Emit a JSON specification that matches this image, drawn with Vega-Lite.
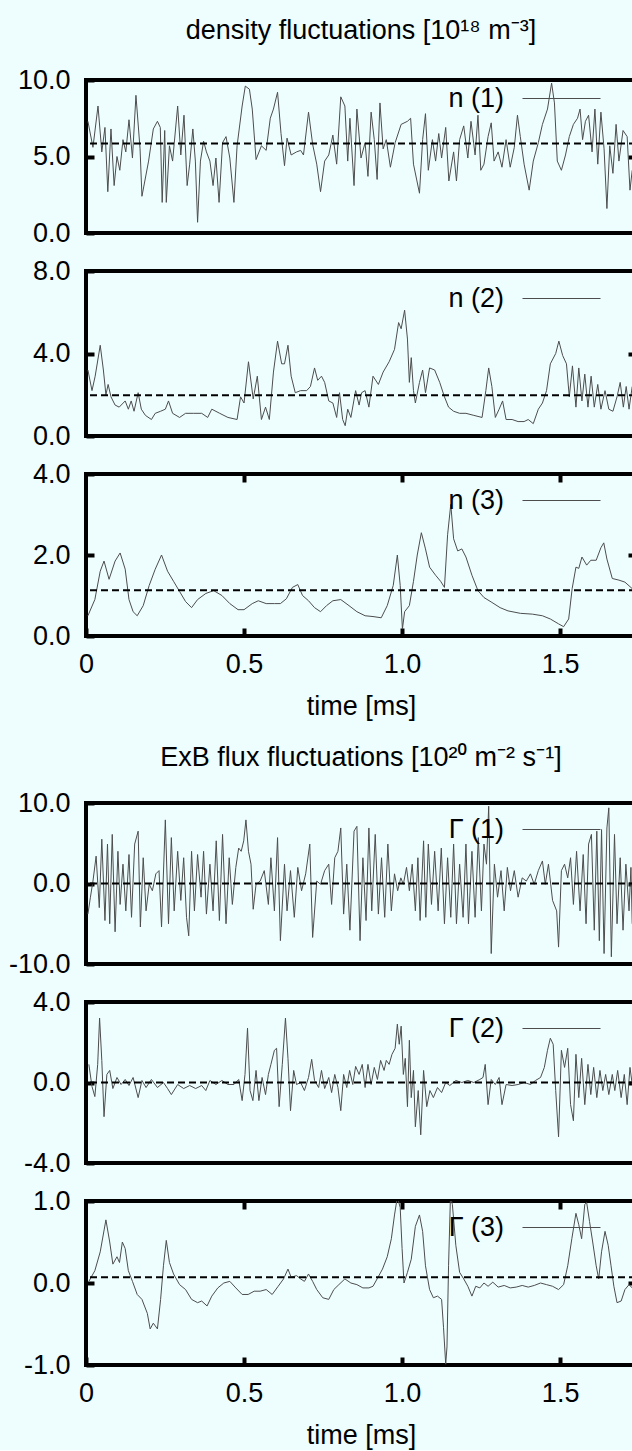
{
"$schema":"https://vega.github.io/schema/vega-lite/v6.json",
"background":"#eefefe",
"padding":{"left":6,"top":14,"right":0,"bottom":0},
"spacing":7,
"config":{
 "font":"Liberation Sans",
 "view":{"stroke":"black","strokeWidth":4},
 "axis":{"labelFont":"Liberation Sans","labelFontSize":27,"labelColor":"black","labelPadding":24,"tickSize":-8,"tickWidth":4,"tickColor":"black","domain":false,"grid":false,"labelFlush":false,"labelOverlap":false,"titleFont":"Liberation Sans","titleFontSize":27,"titleFontWeight":"normal","titleColor":"black"},
 "title":{"font":"Liberation Sans, Noto Sans","fontSize":27,"fontWeight":"normal","color":"black","anchor":"middle","frame":"group"},
 "legend":{"orient":"none","symbolType":"stroke","symbolSize":6084,"symbolStrokeWidth":1,"labelFont":"Liberation Sans","labelFontSize":27,"labelColor":"black","labelAlign":"right","labelOffset":-97,"padding":0}
},
"resolve":{"scale":{"color":"independent"},"legend":{"color":"independent"}},
"datasets":{
"n1":[{"t":0.006,"v":7.3},{"t":0.022,"v":5.6},{"t":0.038,"v":8.3},{"t":0.05,"v":5.3},{"t":0.06,"v":6.9},{"t":0.069,"v":2.7},{"t":0.079,"v":6.8},{"t":0.089,"v":3.1},{"t":0.098,"v":5.0},{"t":0.107,"v":4.1},{"t":0.117,"v":6.1},{"t":0.126,"v":5.3},{"t":0.136,"v":7.4},{"t":0.147,"v":4.9},{"t":0.158,"v":9.0},{"t":0.171,"v":5.5},{"t":0.177,"v":2.4},{"t":0.198,"v":4.7},{"t":0.213,"v":6.8},{"t":0.226,"v":7.3},{"t":0.235,"v":6.9},{"t":0.241,"v":2.0},{"t":0.249,"v":6.7},{"t":0.254,"v":2.0},{"t":0.264,"v":5.7},{"t":0.274,"v":4.7},{"t":0.29,"v":8.3},{"t":0.3,"v":5.1},{"t":0.31,"v":7.7},{"t":0.32,"v":3.1},{"t":0.328,"v":4.5},{"t":0.338,"v":6.8},{"t":0.346,"v":4.7},{"t":0.353,"v":0.7},{"t":0.362,"v":4.7},{"t":0.372,"v":6.0},{"t":0.381,"v":5.3},{"t":0.392,"v":4.7},{"t":0.402,"v":3.1},{"t":0.411,"v":4.9},{"t":0.421,"v":2.0},{"t":0.432,"v":5.9},{"t":0.443,"v":6.3},{"t":0.455,"v":4.9},{"t":0.468,"v":2.0},{"t":0.478,"v":5.7},{"t":0.494,"v":8.3},{"t":0.504,"v":9.6},{"t":0.517,"v":9.4},{"t":0.526,"v":8.1},{"t":0.538,"v":4.8},{"t":0.555,"v":5.7},{"t":0.57,"v":5.4},{"t":0.583,"v":7.5},{"t":0.593,"v":8.1},{"t":0.606,"v":9.2},{"t":0.617,"v":6.5},{"t":0.628,"v":4.4},{"t":0.636,"v":6.2},{"t":0.649,"v":5.1},{"t":0.666,"v":5.3},{"t":0.679,"v":5.4},{"t":0.688,"v":5.1},{"t":0.704,"v":7.9},{"t":0.717,"v":5.8},{"t":0.73,"v":4.5},{"t":0.742,"v":2.7},{"t":0.755,"v":4.7},{"t":0.768,"v":5.1},{"t":0.781,"v":6.4},{"t":0.793,"v":4.5},{"t":0.806,"v":8.9},{"t":0.819,"v":8.3},{"t":0.828,"v":4.7},{"t":0.835,"v":7.5},{"t":0.848,"v":3.1},{"t":0.857,"v":8.1},{"t":0.87,"v":4.9},{"t":0.883,"v":5.9},{"t":0.892,"v":3.7},{"t":0.902,"v":7.9},{"t":0.912,"v":6.1},{"t":0.921,"v":3.5},{"t":0.93,"v":8.5},{"t":0.94,"v":5.5},{"t":0.95,"v":6.1},{"t":0.963,"v":4.3},{"t":0.978,"v":5.9},{"t":0.997,"v":7.1},{"t":1.017,"v":7.3},{"t":1.027,"v":7.5},{"t":1.036,"v":4.5},{"t":1.055,"v":2.6},{"t":1.065,"v":6.1},{"t":1.074,"v":7.8},{"t":1.083,"v":4.1},{"t":1.096,"v":6.1},{"t":1.106,"v":4.7},{"t":1.116,"v":6.5},{"t":1.125,"v":4.9},{"t":1.138,"v":6.9},{"t":1.148,"v":3.4},{"t":1.163,"v":5.3},{"t":1.172,"v":3.4},{"t":1.182,"v":6.1},{"t":1.195,"v":7.0},{"t":1.208,"v":4.9},{"t":1.218,"v":7.3},{"t":1.231,"v":5.1},{"t":1.24,"v":7.7},{"t":1.249,"v":4.1},{"t":1.259,"v":4.5},{"t":1.272,"v":6.3},{"t":1.282,"v":7.2},{"t":1.291,"v":4.7},{"t":1.304,"v":5.3},{"t":1.316,"v":4.3},{"t":1.329,"v":6.1},{"t":1.342,"v":4.3},{"t":1.355,"v":5.6},{"t":1.365,"v":7.7},{"t":1.374,"v":6.3},{"t":1.386,"v":4.5},{"t":1.402,"v":2.8},{"t":1.415,"v":4.7},{"t":1.431,"v":5.9},{"t":1.444,"v":7.1},{"t":1.46,"v":8.1},{"t":1.473,"v":9.8},{"t":1.482,"v":8.5},{"t":1.491,"v":4.7},{"t":1.504,"v":4.1},{"t":1.517,"v":5.1},{"t":1.529,"v":6.3},{"t":1.542,"v":7.1},{"t":1.555,"v":7.5},{"t":1.563,"v":8.1},{"t":1.571,"v":6.1},{"t":1.58,"v":7.3},{"t":1.59,"v":7.7},{"t":1.601,"v":5.3},{"t":1.61,"v":8.1},{"t":1.619,"v":4.5},{"t":1.629,"v":7.9},{"t":1.639,"v":5.5},{"t":1.648,"v":1.6},{"t":1.657,"v":5.7},{"t":1.667,"v":3.9},{"t":1.677,"v":7.1},{"t":1.686,"v":4.7},{"t":1.699,"v":6.7},{"t":1.712,"v":6.3},{"t":1.721,"v":2.8},{"t":1.728,"v":4.1}],
"n2":[{"t":0.006,"v":3.2},{"t":0.019,"v":2.2},{"t":0.029,"v":2.9},{"t":0.045,"v":4.4},{"t":0.055,"v":3.2},{"t":0.063,"v":2.0},{"t":0.07,"v":2.5},{"t":0.079,"v":1.9},{"t":0.092,"v":1.5},{"t":0.105,"v":1.4},{"t":0.124,"v":1.7},{"t":0.134,"v":1.3},{"t":0.143,"v":1.7},{"t":0.152,"v":1.2},{"t":0.165,"v":2.1},{"t":0.175,"v":1.3},{"t":0.188,"v":1.0},{"t":0.207,"v":0.8},{"t":0.219,"v":1.1},{"t":0.236,"v":1.2},{"t":0.251,"v":1.3},{"t":0.261,"v":1.7},{"t":0.274,"v":1.1},{"t":0.296,"v":0.9},{"t":0.315,"v":1.1},{"t":0.341,"v":1.1},{"t":0.366,"v":1.1},{"t":0.385,"v":0.9},{"t":0.398,"v":1.3},{"t":0.423,"v":1.1},{"t":0.449,"v":0.9},{"t":0.478,"v":0.8},{"t":0.489,"v":1.9},{"t":0.5,"v":1.6},{"t":0.514,"v":3.6},{"t":0.529,"v":1.8},{"t":0.542,"v":2.9},{"t":0.555,"v":0.8},{"t":0.568,"v":1.4},{"t":0.58,"v":0.8},{"t":0.593,"v":3.1},{"t":0.606,"v":4.6},{"t":0.619,"v":3.5},{"t":0.628,"v":3.5},{"t":0.639,"v":4.4},{"t":0.649,"v":2.9},{"t":0.662,"v":2.1},{"t":0.679,"v":2.2},{"t":0.698,"v":2.2},{"t":0.71,"v":2.4},{"t":0.723,"v":3.3},{"t":0.733,"v":2.7},{"t":0.745,"v":2.9},{"t":0.755,"v":2.6},{"t":0.768,"v":1.7},{"t":0.781,"v":1.6},{"t":0.793,"v":0.9},{"t":0.802,"v":2.1},{"t":0.812,"v":0.8},{"t":0.82,"v":0.5},{"t":0.828,"v":1.3},{"t":0.838,"v":0.9},{"t":0.853,"v":2.2},{"t":0.864,"v":1.5},{"t":0.872,"v":2.1},{"t":0.883,"v":2.2},{"t":0.895,"v":1.4},{"t":0.908,"v":2.9},{"t":0.925,"v":2.5},{"t":0.94,"v":3.1},{"t":0.959,"v":3.6},{"t":0.976,"v":4.2},{"t":0.989,"v":5.5},{"t":0.997,"v":5.2},{"t":1.008,"v":6.1},{"t":1.017,"v":4.7},{"t":1.023,"v":2.6},{"t":1.029,"v":3.8},{"t":1.036,"v":2.2},{"t":1.042,"v":1.6},{"t":1.055,"v":2.6},{"t":1.065,"v":3.2},{"t":1.074,"v":2.1},{"t":1.087,"v":3.3},{"t":1.103,"v":3.2},{"t":1.119,"v":2.6},{"t":1.134,"v":1.9},{"t":1.147,"v":1.4},{"t":1.163,"v":1.2},{"t":1.182,"v":1.1},{"t":1.202,"v":1.1},{"t":1.227,"v":1.0},{"t":1.253,"v":0.9},{"t":1.265,"v":2.2},{"t":1.274,"v":3.3},{"t":1.284,"v":2.4},{"t":1.295,"v":0.9},{"t":1.307,"v":1.3},{"t":1.318,"v":1.7},{"t":1.329,"v":0.8},{"t":1.348,"v":0.8},{"t":1.367,"v":0.7},{"t":1.386,"v":0.7},{"t":1.399,"v":0.8},{"t":1.415,"v":0.6},{"t":1.431,"v":1.3},{"t":1.444,"v":1.6},{"t":1.457,"v":2.2},{"t":1.469,"v":3.5},{"t":1.486,"v":4.0},{"t":1.496,"v":4.6},{"t":1.508,"v":3.9},{"t":1.52,"v":3.5},{"t":1.529,"v":1.9},{"t":1.539,"v":3.4},{"t":1.55,"v":1.4},{"t":1.559,"v":3.3},{"t":1.569,"v":1.7},{"t":1.578,"v":3.0},{"t":1.588,"v":1.4},{"t":1.598,"v":2.9},{"t":1.608,"v":1.4},{"t":1.619,"v":2.5},{"t":1.629,"v":1.3},{"t":1.642,"v":2.2},{"t":1.654,"v":1.3},{"t":1.667,"v":1.2},{"t":1.68,"v":1.9},{"t":1.69,"v":2.6},{"t":1.7,"v":1.4},{"t":1.709,"v":2.4},{"t":1.718,"v":1.3},{"t":1.728,"v":2.4}],
"n3":[{"t":0.006,"v":0.5},{"t":0.028,"v":0.9},{"t":0.045,"v":1.6},{"t":0.057,"v":1.85},{"t":0.073,"v":1.4},{"t":0.092,"v":1.85},{"t":0.108,"v":2.05},{"t":0.124,"v":1.65},{"t":0.136,"v":0.9},{"t":0.149,"v":0.6},{"t":0.162,"v":0.5},{"t":0.181,"v":0.75},{"t":0.2,"v":1.25},{"t":0.219,"v":1.65},{"t":0.239,"v":2.0},{"t":0.258,"v":1.6},{"t":0.277,"v":1.35},{"t":0.296,"v":1.1},{"t":0.315,"v":0.85},{"t":0.334,"v":0.7},{"t":0.353,"v":0.9},{"t":0.379,"v":1.05},{"t":0.404,"v":1.12},{"t":0.43,"v":1.0},{"t":0.455,"v":0.8},{"t":0.481,"v":0.65},{"t":0.5,"v":0.65},{"t":0.526,"v":0.8},{"t":0.545,"v":0.87},{"t":0.57,"v":0.8},{"t":0.596,"v":0.8},{"t":0.615,"v":0.8},{"t":0.634,"v":0.92},{"t":0.653,"v":1.2},{"t":0.67,"v":1.27},{"t":0.685,"v":1.0},{"t":0.704,"v":0.87},{"t":0.723,"v":0.7},{"t":0.742,"v":0.6},{"t":0.761,"v":0.75},{"t":0.781,"v":0.87},{"t":0.806,"v":0.9},{"t":0.832,"v":0.75},{"t":0.857,"v":0.6},{"t":0.883,"v":0.5},{"t":0.908,"v":0.48},{"t":0.934,"v":0.45},{"t":0.953,"v":0.75},{"t":0.972,"v":1.25},{"t":0.985,"v":2.0},{"t":0.994,"v":1.25},{"t":1.001,"v":0.17},{"t":1.008,"v":0.6},{"t":1.023,"v":0.75},{"t":1.036,"v":1.35},{"t":1.048,"v":2.0},{"t":1.061,"v":2.55},{"t":1.074,"v":2.15},{"t":1.087,"v":1.7},{"t":1.106,"v":1.5},{"t":1.122,"v":1.35},{"t":1.134,"v":1.2},{"t":1.144,"v":2.5},{"t":1.154,"v":3.25},{"t":1.163,"v":2.4},{"t":1.176,"v":2.1},{"t":1.189,"v":2.15},{"t":1.202,"v":1.95},{"t":1.221,"v":1.5},{"t":1.24,"v":1.12},{"t":1.259,"v":0.95},{"t":1.284,"v":0.83},{"t":1.31,"v":0.7},{"t":1.335,"v":0.62},{"t":1.374,"v":0.56},{"t":1.412,"v":0.54},{"t":1.444,"v":0.5},{"t":1.469,"v":0.42},{"t":1.495,"v":0.3},{"t":1.511,"v":0.23},{"t":1.527,"v":0.42},{"t":1.538,"v":1.17},{"t":1.55,"v":1.7},{"t":1.559,"v":1.67},{"t":1.569,"v":1.95},{"t":1.584,"v":1.75},{"t":1.597,"v":1.87},{"t":1.614,"v":1.87},{"t":1.629,"v":2.18},{"t":1.638,"v":2.3},{"t":1.648,"v":1.9},{"t":1.665,"v":1.42},{"t":1.686,"v":1.38},{"t":1.705,"v":1.33},{"t":1.728,"v":1.17}],
"g1":[{"t":0.006,"v":-3.8},{"t":0.014,"v":-1.7},{"t":0.022,"v":0.3},{"t":0.032,"v":3.4},{"t":0.042,"v":-3.0},{"t":0.05,"v":5.5},{"t":0.06,"v":-4.6},{"t":0.068,"v":4.9},{"t":0.075,"v":-5.0},{"t":0.083,"v":6.1},{"t":0.092,"v":-6.0},{"t":0.101,"v":4.0},{"t":0.108,"v":-2.6},{"t":0.117,"v":2.4},{"t":0.126,"v":-3.4},{"t":0.136,"v":3.6},{"t":0.144,"v":-4.2},{"t":0.154,"v":4.9},{"t":0.165,"v":6.5},{"t":0.172,"v":-5.4},{"t":0.181,"v":3.2},{"t":0.19,"v":-3.4},{"t":0.2,"v":-0.1},{"t":0.21,"v":-0.9},{"t":0.221,"v":1.2},{"t":0.231,"v":1.6},{"t":0.239,"v":-5.4},{"t":0.251,"v":7.9},{"t":0.261,"v":-5.0},{"t":0.27,"v":5.7},{"t":0.279,"v":-3.4},{"t":0.29,"v":4.0},{"t":0.3,"v":-2.1},{"t":0.309,"v":3.2},{"t":0.318,"v":-4.2},{"t":0.325,"v":-6.5},{"t":0.334,"v":4.0},{"t":0.343,"v":-3.4},{"t":0.353,"v":3.6},{"t":0.364,"v":-1.7},{"t":0.372,"v":4.0},{"t":0.381,"v":-3.8},{"t":0.392,"v":2.4},{"t":0.402,"v":-3.4},{"t":0.412,"v":5.3},{"t":0.422,"v":-4.6},{"t":0.432,"v":6.1},{"t":0.443,"v":-5.0},{"t":0.453,"v":3.2},{"t":0.463,"v":-2.6},{"t":0.474,"v":2.0},{"t":0.483,"v":4.4},{"t":0.491,"v":4.0},{"t":0.499,"v":5.3},{"t":0.506,"v":7.9},{"t":0.514,"v":4.0},{"t":0.522,"v":2.4},{"t":0.529,"v":-3.2},{"t":0.538,"v":-0.1},{"t":0.551,"v":0.3},{"t":0.564,"v":1.6},{"t":0.577,"v":-2.6},{"t":0.585,"v":3.2},{"t":0.596,"v":-3.4},{"t":0.606,"v":5.7},{"t":0.615,"v":-7.1},{"t":0.628,"v":2.4},{"t":0.636,"v":-3.4},{"t":0.647,"v":1.6},{"t":0.659,"v":-4.2},{"t":0.67,"v":2.0},{"t":0.682,"v":-0.9},{"t":0.695,"v":1.2},{"t":0.708,"v":4.9},{"t":0.717,"v":-6.7},{"t":0.73,"v":0.3},{"t":0.742,"v":-0.1},{"t":0.755,"v":1.6},{"t":0.768,"v":2.4},{"t":0.777,"v":-2.6},{"t":0.787,"v":3.2},{"t":0.797,"v":4.0},{"t":0.806,"v":6.9},{"t":0.815,"v":-3.8},{"t":0.825,"v":2.4},{"t":0.835,"v":-5.8},{"t":0.848,"v":6.5},{"t":0.857,"v":7.1},{"t":0.867,"v":-7.1},{"t":0.876,"v":3.2},{"t":0.886,"v":-4.6},{"t":0.895,"v":6.9},{"t":0.904,"v":-3.4},{"t":0.915,"v":6.1},{"t":0.925,"v":-3.8},{"t":0.935,"v":3.2},{"t":0.945,"v":-4.2},{"t":0.955,"v":4.9},{"t":0.966,"v":-3.4},{"t":0.976,"v":1.2},{"t":0.986,"v":-0.9},{"t":0.996,"v":0.7},{"t":1.004,"v":-0.1},{"t":1.014,"v":2.0},{"t":1.023,"v":-0.9},{"t":1.032,"v":2.4},{"t":1.042,"v":-3.4},{"t":1.05,"v":3.2},{"t":1.057,"v":-4.6},{"t":1.068,"v":5.3},{"t":1.075,"v":-4.2},{"t":1.083,"v":4.9},{"t":1.093,"v":-2.6},{"t":1.103,"v":4.0},{"t":1.114,"v":-3.4},{"t":1.124,"v":4.4},{"t":1.134,"v":-5.0},{"t":1.144,"v":3.2},{"t":1.154,"v":-4.2},{"t":1.163,"v":4.9},{"t":1.172,"v":-5.0},{"t":1.182,"v":2.4},{"t":1.193,"v":-4.2},{"t":1.202,"v":4.9},{"t":1.21,"v":-5.0},{"t":1.221,"v":4.0},{"t":1.231,"v":-4.2},{"t":1.241,"v":5.7},{"t":1.251,"v":-3.4},{"t":1.259,"v":4.9},{"t":1.267,"v":2.4},{"t":1.274,"v":9.6},{"t":1.282,"v":-8.7},{"t":1.292,"v":2.4},{"t":1.302,"v":-1.7},{"t":1.313,"v":1.6},{"t":1.323,"v":-3.4},{"t":1.333,"v":2.0},{"t":1.343,"v":-0.9},{"t":1.355,"v":1.6},{"t":1.367,"v":-1.7},{"t":1.38,"v":0.7},{"t":1.393,"v":0.3},{"t":1.406,"v":1.2},{"t":1.418,"v":-0.1},{"t":1.431,"v":1.6},{"t":1.444,"v":2.8},{"t":1.453,"v":-0.1},{"t":1.463,"v":2.4},{"t":1.476,"v":-2.1},{"t":1.489,"v":-3.4},{"t":1.495,"v":-7.9},{"t":1.504,"v":1.6},{"t":1.514,"v":2.4},{"t":1.524,"v":0.7},{"t":1.533,"v":3.2},{"t":1.542,"v":-2.6},{"t":1.552,"v":4.0},{"t":1.563,"v":-3.4},{"t":1.573,"v":3.6},{"t":1.582,"v":-5.0},{"t":1.59,"v":4.9},{"t":1.599,"v":6.1},{"t":1.608,"v":-5.8},{"t":1.616,"v":6.5},{"t":1.624,"v":-7.1},{"t":1.631,"v":6.7},{"t":1.639,"v":-8.7},{"t":1.648,"v":6.9},{"t":1.654,"v":9.4},{"t":1.662,"v":-9.1},{"t":1.672,"v":6.1},{"t":1.68,"v":-5.0},{"t":1.69,"v":3.2},{"t":1.699,"v":-5.8},{"t":1.708,"v":2.4},{"t":1.718,"v":-3.4},{"t":1.724,"v":2.0},{"t":1.728,"v":-5.0}],
"g2":[{"t":0.009,"v":0.9},{"t":0.019,"v":-0.2},{"t":0.028,"v":-0.7},{"t":0.037,"v":0.9},{"t":0.043,"v":3.2},{"t":0.05,"v":1.1},{"t":0.057,"v":-1.7},{"t":0.066,"v":0.4},{"t":0.075,"v":0.6},{"t":0.085,"v":-0.3},{"t":0.098,"v":0.25},{"t":0.111,"v":-0.1},{"t":0.124,"v":0.15},{"t":0.136,"v":-0.15},{"t":0.149,"v":0.25},{"t":0.165,"v":-0.75},{"t":0.177,"v":0.1},{"t":0.19,"v":-0.25},{"t":0.207,"v":0.15},{"t":0.226,"v":-0.25},{"t":0.245,"v":0},{"t":0.258,"v":-0.3},{"t":0.27,"v":-0.6},{"t":0.29,"v":-0.1},{"t":0.309,"v":-0.3},{"t":0.328,"v":-0.15},{"t":0.347,"v":-0.3},{"t":0.366,"v":-0.15},{"t":0.379,"v":-0.4},{"t":0.392,"v":0.1},{"t":0.411,"v":-0.1},{"t":0.43,"v":0.1},{"t":0.449,"v":-0.1},{"t":0.468,"v":-0.1},{"t":0.483,"v":0.15},{"t":0.494,"v":-0.9},{"t":0.503,"v":0.4},{"t":0.511,"v":2.7},{"t":0.519,"v":-0.4},{"t":0.528,"v":-0.9},{"t":0.538,"v":0.6},{"t":0.547,"v":-0.9},{"t":0.557,"v":0.25},{"t":0.568,"v":-0.6},{"t":0.577,"v":0.4},{"t":0.585,"v":0.9},{"t":0.596,"v":1.6},{"t":0.603,"v":1.7},{"t":0.611,"v":-1.2},{"t":0.621,"v":0.9},{"t":0.631,"v":3.2},{"t":0.639,"v":1.2},{"t":0.647,"v":-1.4},{"t":0.657,"v":0.6},{"t":0.666,"v":-0.1},{"t":0.679,"v":0},{"t":0.691,"v":-0.4},{"t":0.704,"v":0.25},{"t":0.714,"v":1.15},{"t":0.723,"v":0.1},{"t":0.736,"v":-0.25},{"t":0.745,"v":0.6},{"t":0.755,"v":-0.3},{"t":0.768,"v":0.25},{"t":0.777,"v":-0.5},{"t":0.787,"v":0.4},{"t":0.797,"v":-0.25},{"t":0.806,"v":-1.4},{"t":0.815,"v":0.4},{"t":0.825,"v":-0.25},{"t":0.834,"v":0.6},{"t":0.844,"v":-0.1},{"t":0.853,"v":0.8},{"t":0.864,"v":0.4},{"t":0.874,"v":0.9},{"t":0.883,"v":-0.25},{"t":0.892,"v":0.9},{"t":0.902,"v":-0.1},{"t":0.912,"v":0.75},{"t":0.922,"v":0.15},{"t":0.932,"v":1.1},{"t":0.943,"v":0.6},{"t":0.95,"v":1.1},{"t":0.959,"v":0.9},{"t":0.968,"v":1.4},{"t":0.978,"v":1.7},{"t":0.985,"v":2.9},{"t":0.991,"v":1.9},{"t":0.997,"v":2.8},{"t":1.004,"v":0.4},{"t":1.01,"v":1.2},{"t":1.017,"v":-1.2},{"t":1.023,"v":2.1},{"t":1.029,"v":-0.75},{"t":1.036,"v":0.6},{"t":1.042,"v":-2.2},{"t":1.051,"v":-0.4},{"t":1.059,"v":-2.6},{"t":1.068,"v":0.6},{"t":1.078,"v":-1.2},{"t":1.088,"v":-0.4},{"t":1.099,"v":-0.75},{"t":1.112,"v":-0.25},{"t":1.125,"v":-0.5},{"t":1.138,"v":0},{"t":1.151,"v":-0.15},{"t":1.17,"v":0.1},{"t":1.189,"v":0},{"t":1.208,"v":0.1},{"t":1.227,"v":0},{"t":1.246,"v":0.15},{"t":1.256,"v":0.25},{"t":1.263,"v":0.9},{"t":1.272,"v":-1.1},{"t":1.282,"v":0.15},{"t":1.295,"v":-0.1},{"t":1.307,"v":0.25},{"t":1.316,"v":-1.1},{"t":1.329,"v":-0.1},{"t":1.348,"v":-0.15},{"t":1.367,"v":-0.1},{"t":1.386,"v":0},{"t":1.406,"v":-0.1},{"t":1.422,"v":0.1},{"t":1.438,"v":0.25},{"t":1.45,"v":0.75},{"t":1.46,"v":1.6},{"t":1.469,"v":2.2},{"t":1.478,"v":1.9},{"t":1.486,"v":-0.4},{"t":1.495,"v":-2.7},{"t":1.504,"v":1.6},{"t":1.514,"v":0.75},{"t":1.524,"v":1.7},{"t":1.533,"v":-1.1},{"t":1.542,"v":-1.9},{"t":1.55,"v":1.4},{"t":1.559,"v":-0.75},{"t":1.568,"v":1.2},{"t":1.578,"v":-1.1},{"t":1.588,"v":0.9},{"t":1.597,"v":-0.6},{"t":1.606,"v":0.75},{"t":1.616,"v":-0.75},{"t":1.626,"v":0.6},{"t":1.635,"v":-0.4},{"t":1.644,"v":0.4},{"t":1.654,"v":-0.6},{"t":1.665,"v":0.4},{"t":1.673,"v":-0.4},{"t":1.682,"v":0.6},{"t":1.693,"v":-0.75},{"t":1.703,"v":0.4},{"t":1.712,"v":-1.1},{"t":1.721,"v":0.75},{"t":1.728,"v":-0.1}],
"g3":[{"t":0.009,"v":0.02},{"t":0.028,"v":0.15},{"t":0.045,"v":0.38},{"t":0.063,"v":0.77},{"t":0.075,"v":0.5},{"t":0.085,"v":0.23},{"t":0.098,"v":0.32},{"t":0.106,"v":0.25},{"t":0.115,"v":0.5},{"t":0.124,"v":0.42},{"t":0.134,"v":0.15},{"t":0.147,"v":0.02},{"t":0.162,"v":-0.14},{"t":0.177,"v":-0.2},{"t":0.194,"v":-0.37},{"t":0.203,"v":-0.56},{"t":0.213,"v":-0.49},{"t":0.226,"v":-0.56},{"t":0.236,"v":-0.2},{"t":0.245,"v":0.21},{"t":0.254,"v":0.52},{"t":0.264,"v":0.25},{"t":0.277,"v":0.11},{"t":0.296,"v":-0.02},{"t":0.315,"v":-0.08},{"t":0.334,"v":-0.2},{"t":0.353,"v":-0.24},{"t":0.366,"v":-0.22},{"t":0.383,"v":-0.28},{"t":0.398,"v":-0.16},{"t":0.417,"v":-0.06},{"t":0.436,"v":0},{"t":0.455,"v":0.02},{"t":0.474,"v":-0.06},{"t":0.494,"v":-0.14},{"t":0.513,"v":-0.14},{"t":0.532,"v":-0.1},{"t":0.551,"v":-0.1},{"t":0.57,"v":-0.08},{"t":0.589,"v":-0.14},{"t":0.608,"v":-0.04},{"t":0.625,"v":0.05},{"t":0.639,"v":0.17},{"t":0.649,"v":0.07},{"t":0.666,"v":0.09},{"t":0.679,"v":0.05},{"t":0.691,"v":0.02},{"t":0.704,"v":0.11},{"t":0.717,"v":0.02},{"t":0.73,"v":-0.08},{"t":0.749,"v":-0.18},{"t":0.768,"v":-0.2},{"t":0.784,"v":-0.08},{"t":0.8,"v":-0.02},{"t":0.819,"v":0.05},{"t":0.838,"v":0},{"t":0.857,"v":-0.02},{"t":0.876,"v":-0.06},{"t":0.895,"v":-0.06},{"t":0.908,"v":-0.04},{"t":0.921,"v":0.05},{"t":0.938,"v":0.17},{"t":0.953,"v":0.32},{"t":0.966,"v":0.54},{"t":0.976,"v":0.83},{"t":0.985,"v":1.05},{"t":0.994,"v":0.92},{"t":1.0,"v":0.42},{"t":1.006,"v":0},{"t":1.017,"v":0.13},{"t":1.029,"v":0.29},{"t":1.042,"v":0.69},{"t":1.055,"v":0.83},{"t":1.065,"v":0.63},{"t":1.074,"v":0.21},{"t":1.087,"v":-0.08},{"t":1.099,"v":-0.18},{"t":1.112,"v":-0.16},{"t":1.125,"v":-0.2},{"t":1.131,"v":-0.54},{"t":1.138,"v":-0.99},{"t":1.142,"v":-0.78},{"t":1.147,"v":0.21},{"t":1.153,"v":1.05},{"t":1.159,"v":0.96},{"t":1.17,"v":0.46},{"t":1.182,"v":0.13},{"t":1.195,"v":0.05},{"t":1.208,"v":-0.04},{"t":1.221,"v":-0.16},{"t":1.233,"v":-0.04},{"t":1.246,"v":-0.06},{"t":1.259,"v":0},{"t":1.272,"v":-0.04},{"t":1.287,"v":0.01},{"t":1.304,"v":-0.05},{"t":1.323,"v":-0.03},{"t":1.342,"v":-0.06},{"t":1.361,"v":-0.05},{"t":1.38,"v":-0.03},{"t":1.399,"v":-0.05},{"t":1.418,"v":-0.03},{"t":1.438,"v":0},{"t":1.457,"v":-0.02},{"t":1.476,"v":-0.04},{"t":1.495,"v":-0.08},{"t":1.511,"v":-0.02},{"t":1.524,"v":0.21},{"t":1.537,"v":0.54},{"t":1.55,"v":0.85},{"t":1.559,"v":0.71},{"t":1.568,"v":0.54},{"t":1.578,"v":0.96},{"t":1.584,"v":0.98},{"t":1.593,"v":0.75},{"t":1.603,"v":0.5},{"t":1.614,"v":0.21},{"t":1.622,"v":0.05},{"t":1.631,"v":0.38},{"t":1.642,"v":0.63},{"t":1.652,"v":0.46},{"t":1.661,"v":0.21},{"t":1.67,"v":-0.04},{"t":1.68,"v":-0.24},{"t":1.693,"v":-0.22},{"t":1.705,"v":-0.08},{"t":1.718,"v":-0.02},{"t":1.728,"v":-0.06}]
},
"vconcat":[
{"width":550,"height":153,
 "title":{"text":"density fluctuations [10¹⁸ m⁻³]","offset":14.5},
 "layer":[
  {"data":{"name":"n1"},"mark":{"type":"line","clip":true,"strokeWidth":1},
   "encoding":{"x":{"field":"t","type":"quantitative","scale":{"domain":[0,1.74],"nice":false,"zero":false},"axis":null},
    "y":{"field":"v","type":"quantitative","scale":{"domain":[0,10],"nice":false,"zero":false},"axis":{"values":[0,5,10],"labelExpr":"replace(format(datum.value,'.1f'),'\u2212','-')","title":null}},
    "color":{"datum":"n (1)","type":"nominal","scale":{"range":["#4d4d4d"]},"legend":{"title":null,"legendX":436,"legendY":-21}}}},
  {"data":{"values":[{"m":5.85}]},"mark":{"type":"rule","color":"black","strokeWidth":2,"strokeDash":[7,4]},
   "encoding":{"y":{"field":"m","type":"quantitative","scale":{"domain":[0,10],"nice":false,"zero":false},"axis":{"orient":"right","values":[5],"labels":false,"title":null}}}}
 ],
 "resolve":{"axis":{"y":"independent"}}},
{"width":550,"height":165,
 "layer":[
  {"data":{"name":"n2"},"mark":{"type":"line","clip":true,"strokeWidth":1},
   "encoding":{"x":{"field":"t","type":"quantitative","scale":{"domain":[0,1.74],"nice":false,"zero":false},"axis":null},
    "y":{"field":"v","type":"quantitative","scale":{"domain":[0,8],"nice":false,"zero":false},"axis":{"values":[0,4,8],"labelExpr":"replace(format(datum.value,'.1f'),'\u2212','-')","title":null}},
    "color":{"datum":"n (2)","type":"nominal","scale":{"range":["#4d4d4d"]},"legend":{"title":null,"legendX":436,"legendY":-12}}}},
  {"data":{"values":[{"m":1.97}]},"mark":{"type":"rule","color":"black","strokeWidth":2,"strokeDash":[7,4]},
   "encoding":{"y":{"field":"m","type":"quantitative","scale":{"domain":[0,8],"nice":false,"zero":false},"axis":{"orient":"right","values":[4],"labels":false,"title":null}}}}
 ],
 "resolve":{"axis":{"y":"independent"}}},
{"width":550,"height":162,
 "layer":[
  {"data":{"name":"n3"},"mark":{"type":"line","clip":true,"strokeWidth":1},
   "encoding":{"x":{"field":"t","type":"quantitative","scale":{"domain":[0,1.74],"nice":false,"zero":false},"axis":{"values":[0,0.5,1,1.5],"labelExpr":"datum.value === 0 ? '0' : format(datum.value, '.1f')","title":"time [ms]","labelPadding":23,"titlePadding":16}},
    "y":{"field":"v","type":"quantitative","scale":{"domain":[0,4],"nice":false,"zero":false},"axis":{"values":[0,2,4],"labelExpr":"replace(format(datum.value,'.1f'),'\u2212','-')","title":null}},
    "color":{"datum":"n (3)","type":"nominal","scale":{"range":["#4d4d4d"]},"legend":{"title":null,"legendX":436,"legendY":-13}}}},
  {"data":{"values":[{"m":1.13}]},"mark":{"type":"rule","color":"black","strokeWidth":2,"strokeDash":[7,4]},
   "encoding":{"y":{"field":"m","type":"quantitative","scale":{"domain":[0,4],"nice":false,"zero":false},"axis":{"orient":"right","values":[2],"labels":false,"title":null}}}},
  {"data":{"name":"n3"},"mark":{"type":"line","opacity":0},
   "encoding":{"x":{"field":"t","type":"quantitative","scale":{"domain":[0,1.74],"nice":false,"zero":false},"axis":{"orient":"top","values":[0.5,1,1.5],"labels":false,"title":null}},
    "y":{"field":"v","type":"quantitative","scale":{"domain":[0,4],"nice":false,"zero":false},"axis":null}}}
 ],
 "resolve":{"axis":{"y":"independent","x":"independent"}}},
{"width":550,"height":161,
 "title":{"text":["","ExB flux fluctuations [10²⁰ m⁻² s⁻¹]"],"lineHeight":14,"offset":17},
 "layer":[
  {"data":{"name":"g1"},"mark":{"type":"line","clip":true,"strokeWidth":1},
   "encoding":{"x":{"field":"t","type":"quantitative","scale":{"domain":[0,1.74],"nice":false,"zero":false},"axis":null},
    "y":{"field":"v","type":"quantitative","scale":{"domain":[-10,10],"nice":false,"zero":false},"axis":{"values":[-10,0,10],"labelExpr":"replace(format(datum.value,'.1f'),'\u2212','-')","title":null}},
    "color":{"datum":"Γ (1)","type":"nominal","scale":{"range":["#4d4d4d"]},"legend":{"title":null,"legendX":436,"legendY":-13}}}},
  {"data":{"values":[{"m":0}]},"mark":{"type":"rule","color":"black","strokeWidth":2,"strokeDash":[7,4]},
   "encoding":{"y":{"field":"m","type":"quantitative","scale":{"domain":[-10,10],"nice":false,"zero":false},"axis":{"orient":"right","values":[0],"labels":false,"title":null}}}}
 ],
 "resolve":{"axis":{"y":"independent"}}},
{"width":550,"height":161,
 "layer":[
  {"data":{"name":"g2"},"mark":{"type":"line","clip":true,"strokeWidth":1},
   "encoding":{"x":{"field":"t","type":"quantitative","scale":{"domain":[0,1.74],"nice":false,"zero":false},"axis":null},
    "y":{"field":"v","type":"quantitative","scale":{"domain":[-4,4],"nice":false,"zero":false},"axis":{"values":[-4,0,4],"labelExpr":"replace(format(datum.value,'.1f'),'\u2212','-')","title":null}},
    "color":{"datum":"Γ (2)","type":"nominal","scale":{"range":["#4d4d4d"]},"legend":{"title":null,"legendX":436,"legendY":-13}}}},
  {"data":{"values":[{"m":0}]},"mark":{"type":"rule","color":"black","strokeWidth":2,"strokeDash":[7,4]},
   "encoding":{"y":{"field":"m","type":"quantitative","scale":{"domain":[-4,4],"nice":false,"zero":false},"axis":{"orient":"right","values":[0],"labels":false,"title":null}}}}
 ],
 "resolve":{"axis":{"y":"independent"}}},
{"width":550,"height":164,
 "layer":[
  {"data":{"name":"g3"},"mark":{"type":"line","clip":true,"strokeWidth":1},
   "encoding":{"x":{"field":"t","type":"quantitative","scale":{"domain":[0,1.74],"nice":false,"zero":false},"axis":{"values":[0,0.5,1,1.5],"labelExpr":"datum.value === 0 ? '0' : format(datum.value, '.1f')","title":"time [ms]","labelPadding":23,"titlePadding":16}},
    "y":{"field":"v","type":"quantitative","scale":{"domain":[-1,1],"nice":false,"zero":false},"axis":{"values":[-1,0,1],"labelExpr":"replace(format(datum.value,'.1f'),'\u2212','-')","title":null}},
    "color":{"datum":"Γ (3)","type":"nominal","scale":{"range":["#4d4d4d"]},"legend":{"title":null,"legendX":436,"legendY":-13}}}},
  {"data":{"values":[{"m":0.07}]},"mark":{"type":"rule","color":"black","strokeWidth":2,"strokeDash":[7,4]},
   "encoding":{"y":{"field":"m","type":"quantitative","scale":{"domain":[-1,1],"nice":false,"zero":false},"axis":{"orient":"right","values":[0],"labels":false,"title":null}}}},
  {"data":{"name":"g3"},"mark":{"type":"line","opacity":0},
   "encoding":{"x":{"field":"t","type":"quantitative","scale":{"domain":[0,1.74],"nice":false,"zero":false},"axis":{"orient":"top","values":[0.5,1,1.5],"labels":false,"title":null}},
    "y":{"field":"v","type":"quantitative","scale":{"domain":[-1,1],"nice":false,"zero":false},"axis":null}}}
 ],
 "resolve":{"axis":{"y":"independent","x":"independent"}}}
]
}
